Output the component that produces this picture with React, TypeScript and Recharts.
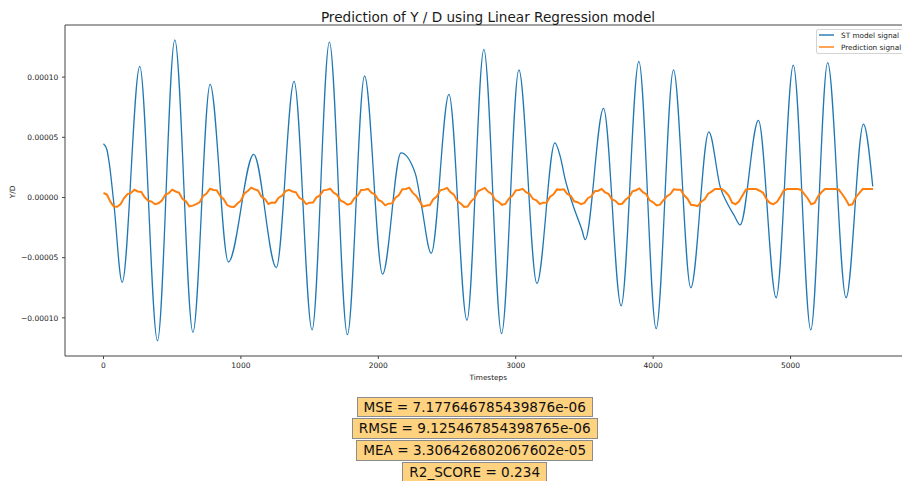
import { LineChart, Line, XAxis, YAxis, Legend, ReferenceLine } from "recharts";

// ST model signal, read at its turning points and bends (timestep / value in 1e-6)
const stSteps = [
  0, 25, 42, 75, 136, 264, 393, 519, 651, 776, 909, 1093, 1258, 1387, 1518,
  1644, 1775, 1900, 2031, 2165, 2269, 2313, 2385, 2514, 2645, 2768, 2897, 3023,
  3154, 3285, 3324, 3360, 3420, 3482, 3505, 3639, 3767, 3896, 4022, 4148, 4274,
  4405, 4490, 4540, 4590, 4633, 4766, 4895, 5020, 5147, 5270, 5404, 5530, 5598,
];
const stSignal = [
  44.7, 39.7, 28.5, -4.4, -70.5, 109, -119, 131, -112, 94, -53.6, 35.8, -58.3,
  96.4, -110, 129, -114, 101, -63.6, 37, 20, -6, -46.4, 85.6, -102, 123, -113,
  106, -71.4, 45.3, 34, 15, -7.5, -27, -35, 74, -90, 113, -109, 106, -75, 54.5,
  8, -5, -15, -22.8, 64, -83.3, 110, -110, 112, -83.3, 61, 9.2,
];

// prediction signal, one reading every 25 timesteps (value in 1e-6)
const predStep = 25;
const predSignal = [
  3.7, 2.5, -3.5, -7.5, -7.7, -5.5, -0.5, 2.8,
  3.8, 6.4, 5.0, 4.6, 0.2, -2.6, -3.4, -5.6,
  -4.8, -2.5, 2.2, 3.5, 6.5, 5.0, 3.9, -1.2,
  -3.2, -7.4, -6.8, -5.6, -4.0, 1.3, 3.3, 7.3,
  6.2, 5.9, 1.2, -1.4, -6.3, -7.8, -7.9, -5.0,
  -2.7, 3.3, 5.4, 8.2, 6.8, 5.8, 0.6, -1.3,
  -5.4, -4.2, -4.3, -0.2, 1.5, 5.3, 6.4, 5.0,
  4.3, -0.3, -1.9, -5.5, -4.3, -4.2, 0.1, 1.7,
  5.9, 6.3, 7.3, 4.0, 2.3, -2.6, -3.9, -6.0,
  -5.1, -0.8, 1.6, 6.2, 6.4, 7.1, 4.0, 2.5,
  -2.0, -3.4, -6.5, -5.1, -4.9, -0.2, 2.0, 6.8,
  7.1, 8.2, 4.0, 1.4, -3.0, -7.6, -6.7, -6.3,
  -1.5, 0.8, 5.9, 6.7, 7.9, 4.4, 2.4, -3.0,
  -5.0, -7.8, -7.6, -3.2, -0.6, 5.2, 6.5, 7.9,
  4.7, 3.0, -2.0, -3.6, -6.1, -5.3, -0.9, 1.3,
  5.9, 6.3, 7.2, 4.4, 3.1, -1.1, -2.3, -5.4,
  -4.3, -4.1, 0.7, 2.6, 6.7, 6.4, 6.8, 2.9,
  1.4, -3.2, -3.9, -5.6, -4.5, -0.6, 1.0, 5.2,
  5.6, 7.0, 4.3, 3.1, -1.6, -2.8, -5.6, -5.2,
  -1.7, 0.3, 5.1, 6.0, 7.5, 4.4, 2.7, -2.4,
  -4.0, -6.6, -6.0, -2.3, 1.0, 2.9, 6.8, 6.4,
  6.5, 1.8, -1.0, -6.0, -6.4, -7.1, -3.5, -1.5,
  3.2, 4.9, 7.0, 7.0, 7.0, 4.7, 1.5, -4.4,
  -5.6, -3.2, 1.6, 6.5, 7.0, 7.0, 7.0, 5.6,
  3.9, -1.4, -4.6, -5.5, -3.8, 0.5, 5.8, 7.0,
  7.0, 7.0, 7.0, 6.5, 2.8, -0.8, -5.6, -4.6,
  1.0, 4.3, 7.0, 7.0, 7.0, 7.0, 6.6, 2.9,
  -1.3, -6.4, -5.7, 0.2, 3.7, 7.0, 7.0, 7.0,
  7.0,
];

const seriesNames = ["ST model signal", "Prediction signal"];
const seriesColors = ["#1f77b4", "#ff7f0e"];
const xTicks = [0, 1000, 2000, 3000, 4000, 5000];
const yTicks = [-0.0001, -0.00005, 0, 0.00005, 0.0001];
const yDomain = [-131.7e-6, 143.3e-6];

const metrics = [
  "MSE = 7.177646785439876e-06",
  "RMSE = 9.125467854398765e-06",
  "MEA = 3.306426802067602e-05",
  "R2_SCORE = 0.234",
];

const FONT = "'DejaVu Sans', sans-serif";
const AXIS = "#444";

const fmtY = (v: number) => v.toFixed(5).replace("-", "\u2212");

// matplotlib-style legend box, kept in series order
const renderLegend = () => (
  <div
    style={{
      width: 92,
      boxSizing: "border-box",
      border: "1px solid #d4d4d4",
      borderRadius: 2,
      background: "rgba(255,255,255,0.8)",
      padding: "0 4px 0.4px 2px",
      fontFamily: FONT,
      fontSize: 7.3,
      color: "#222",
    }}
  >
    {seriesNames.map((name, i) => (
      <div
        key={name}
        style={{
          display: "flex",
          alignItems: "center",
          height: 10,
          marginBottom: i === 0 ? 2.3 : 0,
          whiteSpace: "nowrap",
        }}
      >
        <svg width={15} height={4} style={{ marginRight: 7, display: "block" }}>
          <line x1={0} y1={2} x2={15} y2={2} stroke={seriesColors[i]} strokeWidth={1.4} />
        </svg>
        <span>{name}</span>
      </div>
    ))}
  </div>
);

export default function App() {
  const stData = stSteps.map((t, i) => ({ t, v: stSignal[i] * 1e-6 }));
  const predData = predSignal.map((v, i) => ({ t: i * predStep, v: v * 1e-6 }));

  return (
    <div
      style={{
        position: "absolute",
        left: 0,
        top: 0,
        width: 902,
        height: 481,
        overflow: "hidden",
        background: "#fff",
        fontFamily: FONT,
      }}
    >
      <div style={{ position: "absolute", left: 0, top: 0 }}>
        <LineChart width={920} height={391} margin={{ top: 25, right: 8.5, bottom: 0, left: 0 }}>
          <XAxis
            type="number"
            dataKey="t"
            domain={[-280, 5880]}
            allowDataOverflow
            ticks={xTicks}
            height={35}
            tickSize={3}
            tickMargin={3.5}
            axisLine={{ stroke: AXIS, strokeWidth: 1 }}
            tickLine={{ stroke: AXIS }}
            tick={{ fontSize: 7.5, fill: "#222", fontFamily: FONT }}
            label={{ value: "Timesteps", position: "insideBottom", offset: 11, fontSize: 7.3, fill: "#222", fontFamily: FONT }}
          />
          <YAxis
            type="number"
            domain={yDomain}
            allowDataOverflow
            ticks={yTicks}
            width={65}
            tickSize={3}
            tickMargin={3.7}
            tickFormatter={fmtY}
            axisLine={{ stroke: AXIS, strokeWidth: 1 }}
            tickLine={{ stroke: AXIS }}
            tick={{ fontSize: 7.5, fill: "#222", fontFamily: FONT }}
          />
          {/* top spine */}
          <ReferenceLine y={yDomain[1]} stroke={AXIS} strokeWidth={1} ifOverflow="visible" />
          <Legend
            layout="vertical"
            align="center"
            verticalAlign="middle"
            wrapperStyle={{ left: 816, top: 29, width: 92 }}
            content={renderLegend}
          />
          <Line
            data={stData}
            dataKey="v"
            name={seriesNames[0]}
            type="monotone"
            stroke={seriesColors[0]}
            strokeWidth={1.3}
            dot={false}
            activeDot={false}
            isAnimationActive={false}
          />
          <Line
            data={predData}
            dataKey="v"
            name={seriesNames[1]}
            type="linear"
            stroke={seriesColors[1]}
            strokeWidth={2}
            dot={false}
            activeDot={false}
            isAnimationActive={false}
          />
        </LineChart>
      </div>

      <div
        style={{
          position: "absolute",
          left: 0,
          top: 9,
          width: 976,
          textAlign: "center",
          fontSize: 13.6,
          lineHeight: "16px",
          color: "#1a1a1a",
          whiteSpace: "nowrap",
        }}
      >
        Prediction of Y / D using Linear Regression model
      </div>

      <div
        style={{
          position: "absolute",
          left: -7.3,
          top: 187.3,
          width: 40,
          textAlign: "center",
          fontSize: 7.3,
          lineHeight: "10px",
          color: "#222",
          transform: "rotate(-90deg)",
        }}
      >
        Y/D
      </div>

      <div
        style={{
          position: "absolute",
          left: 0,
          top: 396.7,
          width: 949.4,
          display: "flex",
          flexDirection: "column",
          alignItems: "center",
          gap: 1.2,
        }}
      >
        {metrics.map((m) => (
          <div
            key={m}
            style={{
              boxSizing: "border-box",
              height: 20.6,
              lineHeight: "18.6px",
              padding: "0 6px",
              background: "#ffd280",
              border: "1px solid #8c8c8c",
              fontSize: 13.6,
              color: "#111",
              whiteSpace: "nowrap",
            }}
          >
            {m}
          </div>
        ))}
      </div>
    </div>
  );
}
